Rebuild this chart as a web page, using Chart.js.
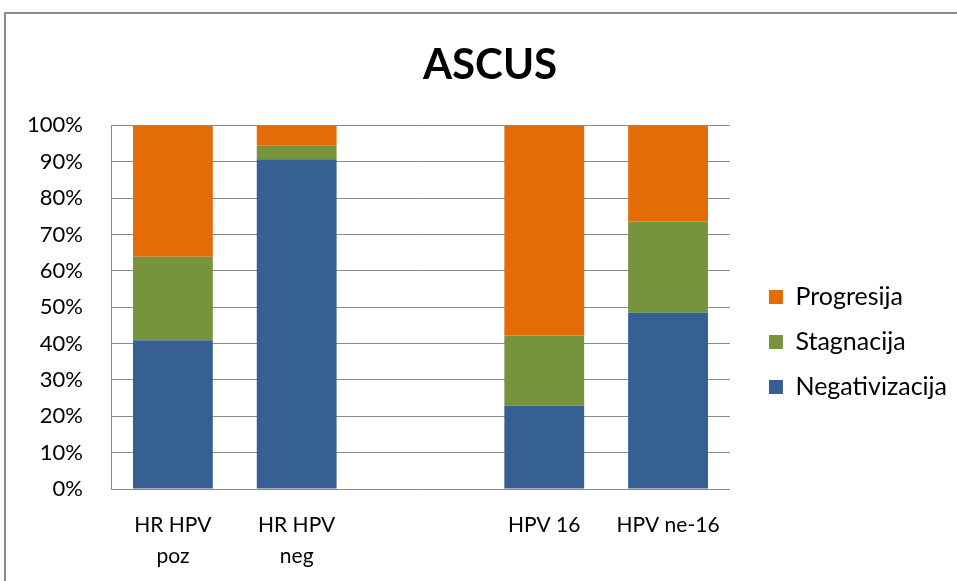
<!DOCTYPE html>
<html>
<head>
<meta charset="utf-8">
<script src="https://cdn.jsdelivr.net/npm/chart.js@4/dist/chart.umd.min.js"></script>
<style>
  html, body { margin: 0; padding: 0; background: #fff; }
  #wrap { position: relative; width: 957px; height: 581px; overflow: hidden; }
  #frame { position: absolute; left: 4px; top: 12px; width: 980px; height: 600px;
           border: 2px solid #8a8a8a; box-sizing: border-box; pointer-events: none; }
  canvas { position: absolute; left: 0; top: 0; }
</style>
</head>
<body>
<div id="wrap">
  <canvas id="c" width="957" height="581"></canvas>
  <div id="frame"></div>
</div>
<script>
// Outcome shares (%) per HPV group; the empty slot separates the two groupings
const categories = [["HR HPV", "poz"], ["HR HPV", "neg"], "", "HPV 16", "HPV ne-16"];
const negativizacija = [40.9, 90.7, null, 22.9, 48.5];
const stagnacija     = [23.0, 3.7, null, 19.3, 25.1];
const progresija     = [36.1, 5.6, null, 57.8, 26.4];
const yTicks = [0, 10, 20, 30, 40, 50, 60, 70, 80, 90, 100];

const FONT = "Lato, 'Open Sans', sans-serif";
const GRID = '#8a8a8a';

// Nudges the legend block right of the plot and down toward the middle,
// and centres the title within the bordered frame
const blockOffsets = {
  id: 'blockOffsets',
  afterLayout(chart) {
    const lg = chart.legend;
    const pad = lg.options.labels.padding;
    const dx = (chart.chartArea.right + 39) - (lg.left + pad);
    const dy = 56;
    lg.left += dx; lg.right += dx;
    lg.top += dy; lg.bottom += dy;

    const tb = chart.titleBlock;
    tb.left += 21; tb.right += 21;
  }
};

new Chart(document.getElementById('c'), {
  type: 'bar',
  data: {
    labels: categories,
    datasets: [
      { label: 'Negativizacija', data: negativizacija, backgroundColor: '#376092' },
      { label: 'Stagnacija', data: stagnacija, backgroundColor: '#77933C' },
      { label: 'Progresija', data: progresija, backgroundColor: '#E36C09' }
    ]
  },
  plugins: [blockOffsets],
  options: {
    responsive: false,
    animation: false,
    devicePixelRatio: 1,
    datasets: { bar: { categoryPercentage: 1, barPercentage: 0.645 } },
    layout: { padding: { left: 0, top: 0, right: 19, bottom: 9 } },
    plugins: {
      tooltip: { enabled: false },
      title: {
        display: true, text: 'ASCUS', color: '#000',
        font: { family: FONT, size: 42, weight: 'bold', lineHeight: 1.2 },
        padding: { top: 40, bottom: 35 }
      },
      legend: {
        position: 'right',
        reverse: true,
        labels: {
          color: '#000', boxWidth: 14, boxHeight: 14, padding: 20,
          font: { family: FONT, size: 25 }
        }
      }
    },
    scales: {
      x: {
        stacked: true,
        grid: { display: false, drawTicks: false },
        border: { display: true, color: GRID, width: 1 },
        ticks: { color: '#000', padding: 20, maxRotation: 0, autoSkip: false,
                 font: { family: FONT, size: 21, lineHeight: 1.5 } },
        afterFit: (s) => { s.height = 20 + 2 * 21 * 1.5; }
      },
      y: {
        stacked: true,
        min: 0, max: 100,
        afterBuildTicks: (axis) => { axis.ticks = yTicks.map(v => ({ value: v })); },
        afterFit: (s) => { s.width = 111; },
        grid: { color: GRID, lineWidth: 1, drawTicks: false },
        border: { display: true, color: GRID, width: 1 },
        ticks: { color: '#000', padding: 28, callback: v => v + '%',
                 font: { family: FONT, size: 22 } }
      }
    }
  }
});
</script>
</body>
</html>
